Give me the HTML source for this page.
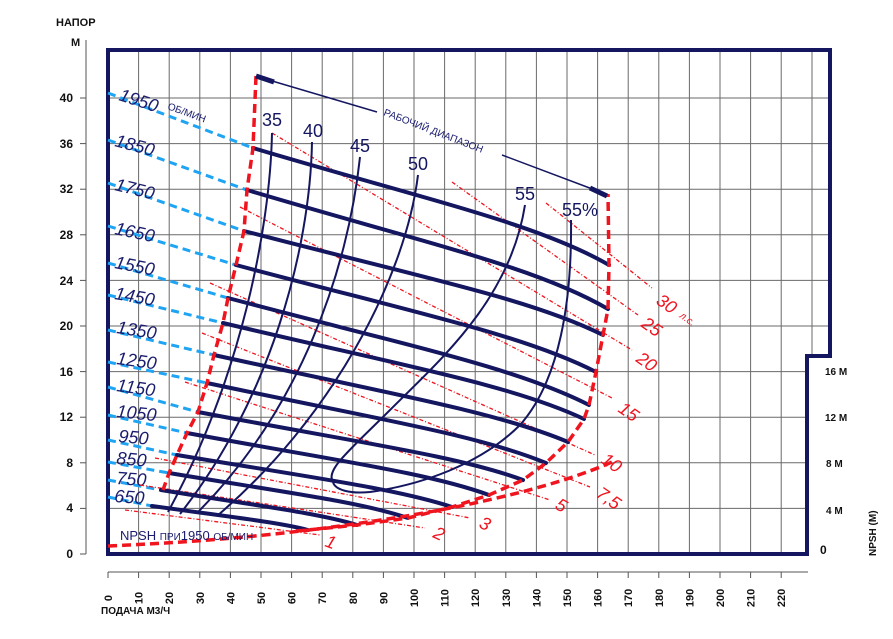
<!DOCTYPE html>
<html><head><meta charset="utf-8"><style>
body{margin:0;background:#fff;}
svg{display:block;font-family:"Liberation Sans",sans-serif;}
</style></head><body>
<svg width="893" height="639" viewBox="0 0 893 639" xmlns="http://www.w3.org/2000/svg">
<rect width="893" height="639" fill="#fff"/>
<!-- grid -->
<g stroke="#6a6a6a" stroke-width="1">
<line x1="138.6" y1="50" x2="138.6" y2="554"/><line x1="169.2" y1="50" x2="169.2" y2="554"/><line x1="199.8" y1="50" x2="199.8" y2="554"/><line x1="230.4" y1="50" x2="230.4" y2="554"/><line x1="261" y1="50" x2="261" y2="554"/><line x1="291.6" y1="50" x2="291.6" y2="554"/><line x1="322.2" y1="50" x2="322.2" y2="554"/><line x1="352.8" y1="50" x2="352.8" y2="554"/><line x1="383.4" y1="50" x2="383.4" y2="554"/><line x1="414" y1="50" x2="414" y2="554"/><line x1="444.6" y1="50" x2="444.6" y2="554"/><line x1="475.2" y1="50" x2="475.2" y2="554"/><line x1="505.8" y1="50" x2="505.8" y2="554"/><line x1="536.4" y1="50" x2="536.4" y2="554"/><line x1="567" y1="50" x2="567" y2="554"/><line x1="597.6" y1="50" x2="597.6" y2="554"/><line x1="628.2" y1="50" x2="628.2" y2="554"/><line x1="658.8" y1="50" x2="658.8" y2="554"/><line x1="689.4" y1="50" x2="689.4" y2="554"/><line x1="720" y1="50" x2="720" y2="554"/><line x1="750.6" y1="50" x2="750.6" y2="554"/><line x1="781.2" y1="50" x2="781.2" y2="554"/><line x1="812" y1="50" x2="812" y2="356"/>
<line x1="108" y1="508.4" x2="807" y2="508.4"/><line x1="108" y1="462.8" x2="807" y2="462.8"/><line x1="108" y1="417.2" x2="807" y2="417.2"/><line x1="108" y1="371.6" x2="807" y2="371.6"/><line x1="108" y1="326" x2="830" y2="326"/><line x1="108" y1="280.4" x2="830" y2="280.4"/><line x1="108" y1="234.8" x2="830" y2="234.8"/><line x1="108" y1="189.2" x2="830" y2="189.2"/><line x1="108" y1="143.6" x2="830" y2="143.6"/><line x1="108" y1="98" x2="830" y2="98"/>
</g>
<!-- frame -->
<path d="M108,50 L830,50 L830,356 L807,356 L807,554 L108,554 Z" fill="none" stroke="#141660" stroke-width="4"/>
<!-- left axis -->
<g stroke="#555" stroke-width="1"><line x1="86" y1="40" x2="86" y2="554"/>
<line x1="80" y1="554" x2="86" y2="554"/><line x1="80" y1="508.4" x2="86" y2="508.4"/><line x1="80" y1="462.8" x2="86" y2="462.8"/><line x1="80" y1="417.2" x2="86" y2="417.2"/><line x1="80" y1="371.6" x2="86" y2="371.6"/><line x1="80" y1="326" x2="86" y2="326"/><line x1="80" y1="280.4" x2="86" y2="280.4"/><line x1="80" y1="234.8" x2="86" y2="234.8"/><line x1="80" y1="189.2" x2="86" y2="189.2"/><line x1="80" y1="143.6" x2="86" y2="143.6"/><line x1="80" y1="98" x2="86" y2="98"/></g>
<g font-size="12" font-weight="bold" fill="#111" text-anchor="end">
<text x="73" y="558">0</text><text x="73" y="512">4</text><text x="73" y="467">8</text><text x="73" y="421">12</text><text x="73" y="376">16</text><text x="73" y="330">20</text><text x="73" y="285">24</text><text x="73" y="239">28</text><text x="73" y="193">32</text><text x="73" y="148">36</text><text x="73" y="102">40</text>
</g>
<text x="56" y="26" font-size="11" font-weight="bold" fill="#111">НАПОР</text>
<text x="71" y="46" font-size="11" font-weight="bold" fill="#111">М</text>
<!-- bottom axis -->
<g stroke="#555" stroke-width="1"><line x1="108" y1="572" x2="808" y2="572"/>
<line x1="108" y1="572" x2="108" y2="578"/><line x1="138.6" y1="572" x2="138.6" y2="578"/><line x1="169.2" y1="572" x2="169.2" y2="578"/><line x1="199.8" y1="572" x2="199.8" y2="578"/><line x1="230.4" y1="572" x2="230.4" y2="578"/><line x1="261" y1="572" x2="261" y2="578"/><line x1="291.6" y1="572" x2="291.6" y2="578"/><line x1="322.2" y1="572" x2="322.2" y2="578"/><line x1="352.8" y1="572" x2="352.8" y2="578"/><line x1="383.4" y1="572" x2="383.4" y2="578"/><line x1="414" y1="572" x2="414" y2="578"/><line x1="444.6" y1="572" x2="444.6" y2="578"/><line x1="475.2" y1="572" x2="475.2" y2="578"/><line x1="505.8" y1="572" x2="505.8" y2="578"/><line x1="536.4" y1="572" x2="536.4" y2="578"/><line x1="567" y1="572" x2="567" y2="578"/><line x1="597.6" y1="572" x2="597.6" y2="578"/><line x1="628.2" y1="572" x2="628.2" y2="578"/><line x1="658.8" y1="572" x2="658.8" y2="578"/><line x1="689.4" y1="572" x2="689.4" y2="578"/><line x1="720" y1="572" x2="720" y2="578"/><line x1="750.6" y1="572" x2="750.6" y2="578"/><line x1="781.2" y1="572" x2="781.2" y2="578"/></g>
<g font-size="11" font-weight="bold" fill="#111">
<text transform="translate(112,598) rotate(-90)" text-anchor="middle">0</text>
<text transform="translate(142.6,598) rotate(-90)" text-anchor="middle">10</text>
<text transform="translate(173.2,598) rotate(-90)" text-anchor="middle">20</text>
<text transform="translate(203.8,598) rotate(-90)" text-anchor="middle">30</text>
<text transform="translate(234.4,598) rotate(-90)" text-anchor="middle">40</text>
<text transform="translate(265,598) rotate(-90)" text-anchor="middle">50</text>
<text transform="translate(295.6,598) rotate(-90)" text-anchor="middle">60</text>
<text transform="translate(326.2,598) rotate(-90)" text-anchor="middle">70</text>
<text transform="translate(356.8,598) rotate(-90)" text-anchor="middle">80</text>
<text transform="translate(387.4,598) rotate(-90)" text-anchor="middle">90</text>
<text transform="translate(418,598) rotate(-90)" text-anchor="middle">100</text>
<text transform="translate(448.6,598) rotate(-90)" text-anchor="middle">110</text>
<text transform="translate(479.2,598) rotate(-90)" text-anchor="middle">120</text>
<text transform="translate(509.8,598) rotate(-90)" text-anchor="middle">130</text>
<text transform="translate(540.4,598) rotate(-90)" text-anchor="middle">140</text>
<text transform="translate(571,598) rotate(-90)" text-anchor="middle">150</text>
<text transform="translate(601.6,598) rotate(-90)" text-anchor="middle">160</text>
<text transform="translate(632.2,598) rotate(-90)" text-anchor="middle">170</text>
<text transform="translate(662.8,598) rotate(-90)" text-anchor="middle">180</text>
<text transform="translate(693.4,598) rotate(-90)" text-anchor="middle">190</text>
<text transform="translate(724,598) rotate(-90)" text-anchor="middle">200</text>
<text transform="translate(754.6,598) rotate(-90)" text-anchor="middle">210</text>
<text transform="translate(785.2,598) rotate(-90)" text-anchor="middle">220</text>
</g>
<text x="101" y="614" font-size="10" font-weight="bold" fill="#111">ПОДАЧА  М3/Ч</text>
<!-- right labels -->
<g font-size="10" font-weight="bold" fill="#111">
<text x="825" y="375">16 М</text><text x="825" y="421">12 М</text><text x="826" y="467">8 М</text><text x="826" y="514">4 М</text>
<text x="820" y="554" font-size="12">0</text>
<text transform="translate(876,556) rotate(-90)">NPSH (М)</text>
</g>
<!-- blue dashed speed extensions -->
<g stroke="#1ea4f2" stroke-width="3" stroke-dasharray="8,5" fill="none">
<line x1="108" y1="93" x2="253" y2="148"/><line x1="108" y1="140" x2="247" y2="190"/><line x1="108" y1="183" x2="244" y2="231"/><line x1="108" y1="226" x2="236" y2="265"/><line x1="108" y1="263" x2="228" y2="298"/><line x1="108" y1="295" x2="223" y2="323"/><line x1="108" y1="330" x2="214" y2="355"/><line x1="108" y1="362" x2="207" y2="383"/><line x1="108" y1="387" x2="198" y2="412"/><line x1="108" y1="415" x2="187" y2="433"/><line x1="108" y1="440" x2="177" y2="455"/><line x1="108" y1="462" x2="169" y2="473"/><line x1="108" y1="480" x2="161" y2="490"/><line x1="108" y1="497" x2="152" y2="506"/>
</g>
<!-- speed labels -->
<g font-size="18" fill="#1a1c6e" font-style="italic">
<text transform="translate(118,100) rotate(18)">1950</text>
<text transform="translate(114,146) rotate(15)">1850</text>
<text transform="translate(114,190) rotate(14)">1750</text>
<text transform="translate(114,234) rotate(12)">1650</text>
<text transform="translate(114,268) rotate(11)">1550</text>
<text transform="translate(114,299) rotate(10)">1450</text>
<text transform="translate(116,333) rotate(9)">1350</text>
<text transform="translate(116,364) rotate(8)">1250</text>
<text transform="translate(116,391) rotate(8)">1150</text>
<text transform="translate(116,417) rotate(6)">1050</text>
<text transform="translate(118,442) rotate(5)">950</text>
<text transform="translate(116,464) rotate(5)">850</text>
<text transform="translate(116,484) rotate(4)">750</text>
<text transform="translate(114,502) rotate(4)">650</text>
</g>
<text transform="translate(167,109) rotate(20)" font-size="10" fill="#1a1c6e">ОБ/МИН</text>
<!-- red power lines -->
<g stroke="#f0141e" stroke-width="1.3" stroke-dasharray="4,2,1,2" fill="none">
<line x1="546" y1="203" x2="652" y2="288"/>
<line x1="452" y1="182" x2="638" y2="315"/>
<line x1="272" y1="133" x2="632" y2="350"/>
<line x1="240" y1="207" x2="612" y2="398"/>
<line x1="210" y1="283" x2="595" y2="455"/>
<line x1="202" y1="333" x2="590" y2="487"/>
<line x1="185" y1="382" x2="550" y2="500"/>
<line x1="155" y1="458" x2="470" y2="518"/>
<line x1="140" y1="485" x2="425" y2="528"/>
<line x1="125" y1="510" x2="320" y2="535"/>
</g>
<g font-size="18" fill="#f0141e" font-style="italic">
<text transform="translate(655,303) rotate(35)">30</text>
<text transform="translate(679,317) rotate(35)" font-size="10">л.с.</text>
<text transform="translate(640,326) rotate(35)">25</text>
<text transform="translate(635,361) rotate(35)">20</text>
<text transform="translate(617,411) rotate(35)">15</text>
<text transform="translate(600,462) rotate(35)">10</text>
<text transform="translate(595,496) rotate(35)">7,5</text>
<text transform="translate(554,508) rotate(30)">5</text>
<text transform="translate(478,527) rotate(25)">3</text>
<text transform="translate(432,537) rotate(25)">2</text>
<text transform="translate(324,546) rotate(20)">1</text>
</g>
<!-- efficiency curves -->
<g stroke="#141660" stroke-width="2" fill="none">
<path d="M272,133 C270,230 240,380 168,512"/>
<path d="M312,142 C310,250 270,400 180,514"/>
<path d="M360,157 C348,270 300,410 197,513"/>
<path d="M418,175 C405,280 330,420 217,516"/>
<path d="M525,205 C510,300 440,360 390,410 C350,450 325,470 333,482"/>
<path d="M571,220 C572,300 560,380 520,425 C480,465 420,485 370,492 C350,494 335,490 333,482"/>
</g>
<g font-size="18" fill="#141660">
<text x="262" y="126">35</text><text x="303" y="137">40</text><text x="350" y="152">45</text><text x="408" y="170">50</text><text x="515" y="200">55</text><text x="562" y="216">55%</text>
</g>
<!-- speed curves -->
<g stroke="#141660" stroke-width="4" fill="none" stroke-linecap="round">
<path d="M253,148 C431,201 538,224 609,265"/>
<path d="M247,190 C428,244 536,267 608,309"/>
<path d="M244,231 C424,278 531,299 603,335"/>
<path d="M236,265 C416,313 524,335 596,372"/>
<path d="M228,298 C409,346 517,368 589,405"/>
<path d="M223,323 C404,366 512,385 584,419"/>
<path d="M214,355 C391,394 497,412 568,442"/>
<path d="M207,383 C377,419 478,435 546,463"/>
<path d="M198,412 C361,443 458,456 523,480"/>
<path d="M187,433 C338,461 429,473 489,495"/>
<path d="M177,455 C315,478 397,489 452,507"/>
<path d="M169,473 C289,493 360,502 408,518"/>
<path d="M161,490 C259,506 318,513 357,525"/>
<path d="M152,506 C230,517 277,522 308,530"/>
</g>
<!-- red boundaries -->
<g stroke="#f0141e" stroke-width="3.5" stroke-dasharray="9,5" fill="none">
<path d="M256,76 L253,148 L247,190 L244,231 L236,265 L228,298 L223,323 L214,355 L207,383 L198,412 L187,433 L177,455 L169,473 L163,490"/>
<path d="M296,531 L308,530 L357,525 L408,518 L452,507 L489,495 L523,480 L546,463 L568,442 L584,419 L589,405 L596,372 L603,335 L608,309 L609,265 L608,194"/>
<path d="M108,546 C220,541 300,533 400,517 C480,504 560,485 612,462"/>
</g>
<!-- working range -->
<g stroke="#141660" fill="none">
<line x1="256" y1="76" x2="274" y2="82" stroke-width="5"/>
<line x1="262" y1="78" x2="377" y2="112" stroke-width="1.5"/>
<line x1="502" y1="155" x2="595" y2="190" stroke-width="1.5"/>
<line x1="590" y1="188" x2="607" y2="196" stroke-width="5"/>
</g>
<text transform="translate(383,115) rotate(21)" font-size="10" fill="#1a1c6e">РАБОЧИЙ ДИАПАЗОН</text>
<text x="120" y="540" font-size="13" fill="#1a1c6e">NPSH <tspan font-size="10">ПРИ</tspan>1950 <tspan font-size="10">ОБ/МИН</tspan></text>
</svg>
</body></html>
